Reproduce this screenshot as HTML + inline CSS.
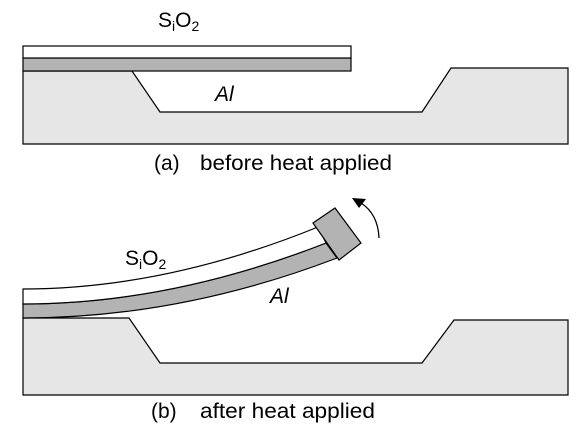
<!DOCTYPE html>
<html><head><meta charset="utf-8"><style>
html,body{margin:0;padding:0;background:#fff;}
svg{display:block;font-family:"Liberation Sans",sans-serif;}
</style></head><body>
<svg width="586" height="428" viewBox="0 0 586 428">
<g>
<polygon points="23,71 132,71 160,112 422,112 451,68 568,68 568,144 23,144" fill="#e6e6e6" stroke="#000" stroke-width="1.2"/>
<rect x="23" y="58" width="328" height="13" fill="#b3b3b3" stroke="#000" stroke-width="1.2"/>
<rect x="23" y="46" width="328" height="12" fill="#fff" stroke="#000" stroke-width="1.2"/>
<text x="158" y="27" font-size="21">S<tspan font-size="14" dy="4">i</tspan><tspan dy="-4">O</tspan><tspan font-size="14" dy="4">2</tspan></text>
<text x="215" y="101" font-size="21" font-style="italic">Al</text>
<text x="154" y="170" font-size="21">(a)</text>
<text x="200" y="170" font-size="21" textLength="192" lengthAdjust="spacingAndGlyphs">before heat applied</text>
</g>
<g>
<polygon points="23,318 129,318 160,363 422,363 454,320 568,320 568,395 23,395" fill="#e6e6e6" stroke="#000" stroke-width="1.2"/>
<path d="M23,304 Q170,304 326,243 L337,258 Q180,318 23,318 Z" fill="#b3b3b3" stroke="#000" stroke-width="1.2"/>
<path d="M23,289 Q165,289 318,227 L326,243 Q170,304 23,304 Z" fill="#fff" stroke="#000" stroke-width="1.2"/>
<polygon points="313,223 335,208 361,243 339,260" fill="#b3b3b3" stroke="#000" stroke-width="1.2"/>
<path d="M379,238 Q378,214 361,203" fill="none" stroke="#000" stroke-width="1.3"/>
<polygon points="352,198 366,199 359,208" fill="#000"/>
<text x="125" y="265" font-size="21">S<tspan font-size="14" dy="4">i</tspan><tspan dy="-4">O</tspan><tspan font-size="14" dy="4">2</tspan></text>
<text x="270" y="303" font-size="21" font-style="italic">Al</text>
<text x="151" y="418" font-size="21">(b)</text>
<text x="200" y="418" font-size="21" textLength="175" lengthAdjust="spacingAndGlyphs">after heat applied</text>
</g>
</svg>
</body></html>
